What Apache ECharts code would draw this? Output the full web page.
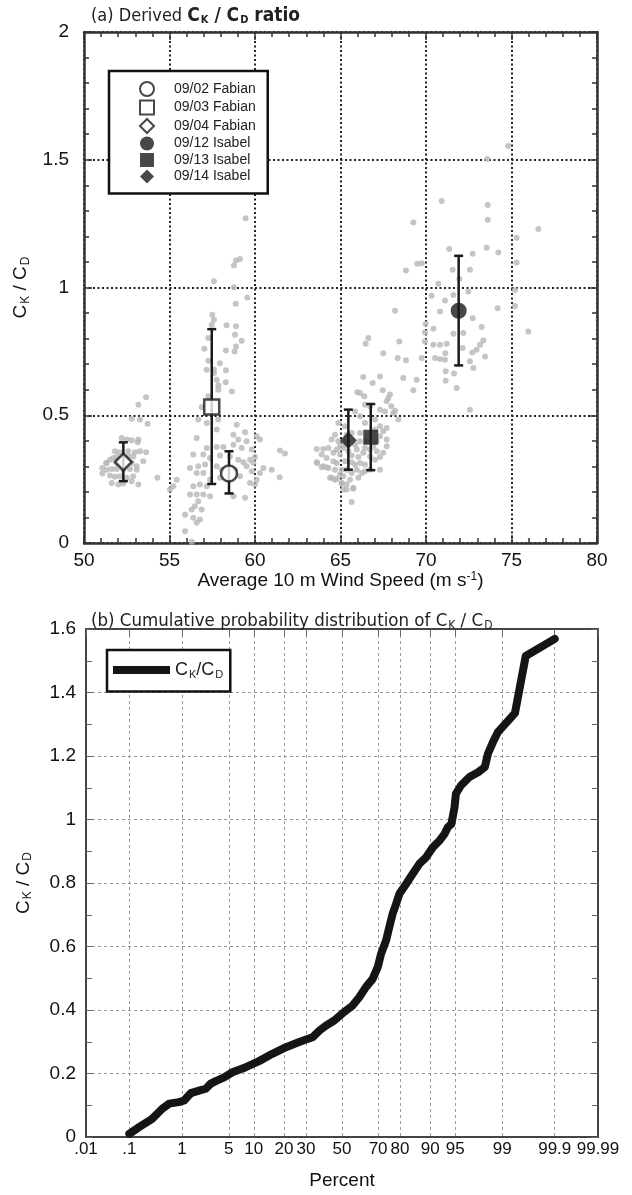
<!DOCTYPE html>
<html><head><meta charset="utf-8">
<script src="https://cdn.jsdelivr.net/npm/echarts@6/dist/echarts.min.js"></script>
<style>html,body{margin:0;padding:0;background:#fff}#c{width:632px;height:1195px}</style>
</head><body><div id="c"></div>
<script>
// ---------- DATA ----------
// (a) individual C_K/C_D estimates: [wind speed (m/s), ratio]
const pointsFabian0904 = [[53.63,0.570],[53.18,0.541],[52.79,0.486],[53.27,0.483],[53.72,0.467],[52.20,0.411],[52.50,0.405],[52.79,0.402],[53.18,0.405],[53.14,0.394],[51.81,0.359],[52.07,0.355],[52.59,0.359],[52.98,0.355],[53.27,0.359],[53.63,0.355],[51.71,0.333],[51.91,0.337],[51.52,0.326],[51.33,0.313],[51.91,0.313],[52.20,0.307],[52.79,0.313],[53.08,0.300],[51.07,0.294],[51.33,0.287],[51.62,0.290],[51.91,0.290],[52.30,0.287],[52.69,0.290],[53.08,0.287],[51.07,0.272],[51.52,0.264],[51.81,0.259],[52.11,0.261],[52.50,0.255],[52.88,0.261],[51.62,0.235],[52.01,0.229],[52.30,0.233],[53.18,0.229],[52.79,0.242],[54.29,0.255],[51.29,0.313],[53.47,0.320],[52.59,0.339],[52.88,0.339]];
const pointsFabian0203 = [[56.88,0.532],[56.68,0.483],[57.85,0.483],[57.18,0.470],[56.59,0.411],[57.76,0.444],[58.93,0.463],[58.74,0.424],[59.42,0.433],[59.02,0.405],[59.51,0.398],[60.10,0.418],[60.29,0.405],[57.18,0.372],[57.76,0.376],[58.15,0.376],[58.74,0.385],[59.22,0.372],[59.81,0.366],[60.00,0.337],[56.39,0.346],[56.98,0.346],[57.37,0.333],[57.95,0.342],[58.54,0.339],[59.02,0.326],[59.32,0.316],[59.71,0.326],[59.90,0.314],[60.49,0.294],[60.98,0.287],[61.46,0.362],[61.75,0.350],[56.20,0.294],[56.68,0.300],[57.08,0.307],[57.76,0.300],[58.05,0.287],[58.83,0.287],[59.51,0.300],[59.81,0.281],[60.10,0.248],[60.29,0.274],[61.44,0.257],[56.59,0.274],[56.98,0.274],[57.37,0.248],[57.95,0.255],[59.12,0.261],[59.71,0.235],[60.00,0.229],[59.42,0.177],[58.74,0.183],[55.42,0.248],[55.22,0.222],[55.03,0.209],[56.39,0.222],[56.78,0.229],[57.18,0.222],[56.20,0.190],[56.59,0.190],[56.98,0.190],[57.37,0.183],[56.68,0.163],[56.49,0.144],[56.88,0.131],[56.30,0.131],[55.91,0.111],[56.39,0.099],[56.78,0.092],[56.59,0.079],[55.91,0.046],[56.30,0.005],
  [59.45,1.271],[59.12,1.112],[58.89,1.106],[58.77,1.086],[57.60,1.024],[58.77,1.001],[59.55,0.961],[58.87,0.936],[57.50,0.893],[57.60,0.874],[57.47,0.854],[58.34,0.852],[58.89,0.848],[57.27,0.802],[58.83,0.815],[59.22,0.792],[57.04,0.760],[58.89,0.769],[58.30,0.753],[58.81,0.750],[57.27,0.713],[57.95,0.704],[57.17,0.678],[57.60,0.678],[58.30,0.676],[57.60,0.665],[57.86,0.617],[58.29,0.629],[57.86,0.600],[57.27,0.574],[57.76,0.639],[58.64,0.593]];
const pointsIsabel1314 = [[66.33,0.650],[66.88,0.626],[67.31,0.652],[68.67,0.646],[69.26,0.598],[69.45,0.639],[65.98,0.590],[66.14,0.587],[67.47,0.598],[67.89,0.581],[67.70,0.555],[66.43,0.541],[66.73,0.535],[67.31,0.522],[67.60,0.515],[68.09,0.509],[68.38,0.483],[65.85,0.515],[66.14,0.496],[66.43,0.470],[67.02,0.483],[67.31,0.457],[67.50,0.437],[67.70,0.450],[64.87,0.470],[65.26,0.457],[64.68,0.424],[65.36,0.424],[65.65,0.431],[66.14,0.431],[67.02,0.444],[64.48,0.405],[67.70,0.405],[63.61,0.368],[63.99,0.368],[64.29,0.372],[64.78,0.366],[65.17,0.372],[65.95,0.366],[66.43,0.372],[67.12,0.359],[67.70,0.379],[64.58,0.353],[64.97,0.346],[65.65,0.342],[66.04,0.337],[66.33,0.353],[66.73,0.339],[67.31,0.337],[64.78,0.313],[65.26,0.320],[65.65,0.316],[66.14,0.313],[66.43,0.307],[63.64,0.313],[63.99,0.300],[64.29,0.294],[64.68,0.287],[65.07,0.287],[65.95,0.287],[66.43,0.281],[64.39,0.255],[64.68,0.248],[65.17,0.261],[65.56,0.248],[66.04,0.255],[65.07,0.235],[65.36,0.229],[65.17,0.209],[65.75,0.216],[65.65,0.160],[67.31,0.287],[67.02,0.326],[66.14,0.398],[64.87,0.398],[63.61,0.316],[63.90,0.296],[64.19,0.296],[64.48,0.255],[64.78,0.251],[65.07,0.233],[65.36,0.209],[65.75,0.212],
  [65.36,0.398],[65.85,0.385],[66.53,0.398],[66.92,0.379],[65.46,0.359],[66.73,0.366],[65.36,0.287],[65.65,0.274],[66.24,0.274],[66.73,0.287],[65.85,0.307],[64.97,0.268],[64.58,0.320],[64.19,0.333],[63.90,0.346],[67.31,0.418],[67.12,0.398],[67.50,0.353],[65.26,0.385],[64.97,0.379],
  [68.19,0.909],[66.47,0.780],[66.63,0.802],[68.44,0.789],[67.50,0.743],[68.34,0.724],[68.83,0.715],[67.80,0.568],[66.39,0.574],[68.19,0.518],[67.97,0.535]];
const pointsIsabel12 = [[70.92,1.339],[73.61,1.323],[73.61,1.265],[69.26,1.254],[75.30,1.195],[76.57,1.229],[73.55,1.156],[71.36,1.151],[74.23,1.137],[72.73,1.132],[68.83,1.067],[69.49,1.093],[69.75,1.095],[71.56,1.069],[72.57,1.069],[75.30,1.098],[70.72,1.015],[70.33,0.968],[71.11,0.949],[71.60,0.971],[71.95,1.033],[72.48,0.984],[74.19,0.919],[75.20,0.928],[75.20,0.990],[75.98,0.828],[69.98,0.858],[70.43,0.839],[70.82,0.906],[69.94,0.824],[69.94,0.789],[70.43,0.776],[70.82,0.776],[71.21,0.780],[71.13,0.743],[71.11,0.717],[71.60,0.819],[72.18,0.822],[72.73,0.880],[73.26,0.845],[73.35,0.793],[73.16,0.776],[72.71,0.746],[72.96,0.756],[73.45,0.730],[72.57,0.711],[70.53,0.724],[70.82,0.720],[69.75,0.724],[71.15,0.672],[71.64,0.663],[71.15,0.635],[71.79,0.607],[72.77,0.685],[72.14,0.763],[72.57,0.522],[74.81,1.554],[73.59,1.503]];

// (a) flight means with error bars
const caseNames = ['09/02 Fabian','09/03 Fabian','09/04 Fabian','09/12 Isabel','09/13 Isabel','09/14 Isabel'];
const caseWind  = [58.48, 57.47, 52.30, 71.91, 66.77, 65.46];
const caseMean  = [0.272, 0.532, 0.317, 0.909, 0.414, 0.402];
const caseLow   = [0.194, 0.231, 0.242, 0.695, 0.285, 0.287];
const caseHigh  = [0.359, 0.837, 0.394, 1.124, 0.544, 0.522];
const caseSymbol = ['circle','rect','diamond','circle','rect','diamond'];
const caseFilled = [false,false,false,true,true,true];

// (b) cumulative probability distribution
const cdfPercent = [0.1,0.16,0.29,0.45,0.6,0.89,1.09,1.4,1.89,2.39,2.83,3.33,4.34,5.57,8.12,11.4,15.6,20.8,26.7,33.4,37.1,40.8,45.5,50.4,56.1,59.9,63.6,67.2,69.8,71.5,73.9,75.4,76.9,78.4,79.8,82.4,84.8,87.0,88.9,90.7,92.2,93.2,93.8,94.4,94.9,95.1,95.8,96.8,97.6,98.1,98.3,98.58,98.82,99.2,99.4,99.62,99.9];
const cdfRatio   = [0.01,0.031,0.057,0.089,0.105,0.11,0.115,0.138,0.146,0.152,0.168,0.176,0.188,0.204,0.22,0.239,0.262,0.283,0.299,0.314,0.335,0.351,0.367,0.39,0.414,0.44,0.472,0.498,0.535,0.577,0.619,0.661,0.703,0.734,0.766,0.797,0.829,0.861,0.881,0.913,0.934,0.955,0.976,0.986,1.039,1.081,1.107,1.134,1.149,1.165,1.207,1.243,1.275,1.31,1.335,1.515,1.569];
const percentTicks = [0.01,0.1,1,5,10,20,30,50,70,80,90,95,99,99.9,99.99];
const percentTickLabels = ['.01','.1','1','5','10','20','30','50','70','80','90','95','99','99.9','99.99'];

// ---------- probability-axis transform (normal quantile) ----------
function probit(p){
  const a=[-3.969683028665376e+01,2.209460984245205e+02,-2.759285104469687e+02,1.383577518672690e+02,-3.066479806614716e+01,2.506628277459239e+00];
  const b=[-5.447609879822406e+01,1.615858368580409e+02,-1.556989798598866e+02,6.680131188771972e+01,-1.328068155288572e+01];
  const c=[-7.784894002430293e-03,-3.223964580411365e-01,-2.400758277161838e+00,-2.549671039164224e+00,4.374664141464968e+00,2.938163982698783e+00];
  const d=[7.784695709041462e-03,3.224671290700398e-01,2.445134137142996e+00,3.754408661907416e+00];
  const pl=0.02425, ph=1-pl; let q,r;
  if(p<pl){q=Math.sqrt(-2*Math.log(p));return (((((c[0]*q+c[1])*q+c[2])*q+c[3])*q+c[4])*q+c[5])/((((d[0]*q+d[1])*q+d[2])*q+d[3])*q+1);}
  if(p<=ph){q=p-0.5;r=q*q;return (((((a[0]*r+a[1])*r+a[2])*r+a[3])*r+a[4])*r+a[5])*q/(((((b[0]*r+b[1])*r+b[2])*r+b[3])*r+b[4])*r+1);}
  q=Math.sqrt(-2*Math.log(1-p));return -(((((c[0]*q+c[1])*q+c[2])*q+c[3])*q+c[4])*q+c[5])/((((d[0]*q+d[1])*q+d[2])*q+d[3])*q+1);
}
const zTicks = percentTicks.map(p=>probit(p/100));
const zMin = zTicks[0], zMax = zTicks[zTicks.length-1];

// ---------- STYLE ----------
const FONT = "'Liberation Sans', Arial, sans-serif";
const NARROW = "'Liberation Sans Narrow', 'DejaVu Sans Condensed', sans-serif";
const INK = '#1a1a1a';
const subRich = { s:{fontSize:12, padding:[9,0,0,1], fontFamily:FONT, color:'#222'} };

const chart = echarts.init(document.getElementById('c'), null, {renderer:'canvas'});

const frameTopA = {show:true, onZero:false, lineStyle:{color:'#333', width:2.5}};
const frameB = {show:true, onZero:false, lineStyle:{color:'#444', width:2}};

const series = [];
const allGray = [].concat(pointsFabian0904, pointsFabian0203, pointsIsabel1314, pointsIsabel12);
series.push({type:'scatter', name:'obs', xAxisIndex:0, yAxisIndex:0, data:allGray, symbolSize:6,
  itemStyle:{color:'#b6b6b6'}, silent:true, z:2});
series.push({type:'custom', name:'err', xAxisIndex:0, yAxisIndex:0, z:3,
  data: caseWind.map((w,i)=>[w, caseLow[i], caseHigh[i]]),
  encode:{x:0, y:[1,2]},
  renderItem:(params, api)=>{
    const x=api.value(0), lo=api.value(1), hi=api.value(2);
    const p1=api.coord([x,lo]), p2=api.coord([x,hi]);
    const hw=4.5, st={stroke:INK, lineWidth:2.5};
    return {type:'group', children:[
      {type:'line', shape:{x1:p1[0],y1:p1[1],x2:p2[0],y2:p2[1]}, style:st},
      {type:'line', shape:{x1:p1[0]-hw,y1:p1[1],x2:p1[0]+hw,y2:p1[1]}, style:st},
      {type:'line', shape:{x1:p2[0]-hw,y1:p2[1],x2:p2[0]+hw,y2:p2[1]}, style:st}
    ]};
  }});
caseNames.forEach((n,i)=>{
  series.push({type:'scatter', name:n, xAxisIndex:0, yAxisIndex:0, z:4,
    data:[[caseWind[i], caseMean[i]]], symbol:caseSymbol[i],
    symbolSize: caseSymbol[i]==='diamond'? 17 : (caseSymbol[i]==='rect'? 15 : 16),
    itemStyle: caseFilled[i] ? {color:INK, borderColor:INK, borderWidth:0}
                             : {color:'#fff', borderColor:INK, borderWidth:2.5}});
});
series.push({type:'line', name:'CK/CD', xAxisIndex:2, yAxisIndex:2, z:3,
  data: cdfPercent.map((p,i)=>[probit(p/100), cdfRatio[i]]),
  showSymbol:false, symbol:'none', color:'#151515',
  lineStyle:{width:8, color:'#151515', join:'round', cap:'round'}});

const yNameText = 'C{s|K} / C{s|D}';

const option = {
  animation:false,
  backgroundColor:'#fff',
  textStyle:{fontFamily:FONT},
  title:[
    {text:'(a) Derived {c|C}{s|K}{c| / C}{s|D}{c| ratio}', left:86, top:1,
     textStyle:{fontFamily:NARROW, fontSize:18, fontWeight:'normal', color:'#222',
       rich:{c:{fontFamily:NARROW, fontSize:19, fontWeight:'bold', color:'#222'}, s:{fontFamily:NARROW, fontSize:11, fontWeight:'bold', padding:[9,0,0,1], color:'#222'}}}},
    {text:'(b) Cumulative probability distribution of C{s|K} / C{s|D}', left:86, top:605,
     textStyle:{fontFamily:NARROW, fontSize:18.5, fontWeight:'normal', color:'#222',
       rich:{s:{fontFamily:NARROW, fontSize:12, padding:[10,0,0,1], color:'#222'}}}}
  ],
  legend:[
    {data:caseNames, orient:'vertical', left:109, top:71, itemWidth:14, itemHeight:14, itemGap:2.5,
     padding:[10,12,10,30], borderColor:'#111', borderWidth:2.5, backgroundColor:'#fff',
     selectedMode:false, textStyle:{fontSize:14, color:'#222', padding:[0,0,0,15]}},
    {data:[{name:'CK/CD', icon:'rect'}], left:107, top:650, itemWidth:57, itemHeight:8,
     padding:[11,7,11,6], borderColor:'#111', borderWidth:2.5, backgroundColor:'#fff', selectedMode:false,
     formatter:()=>'C{s|K}/C{s|D}',
     textStyle:{fontSize:18, color:'#222', rich:{s:{fontSize:11, padding:[10,0,0,1], color:'#222'}}}}
  ],
  grid:[
    {left:84, top:32, width:513, height:511, containLabel:false},
    {left:86, top:629, width:512, height:508, containLabel:false}
  ],
  xAxis:[
    {gridIndex:0, type:'value', min:50, max:80, interval:5, position:'bottom',
     axisLine:frameTopA, axisTick:{show:true, inside:true, length:8, lineStyle:{color:'#333', width:1.5}},
     minorTick:{show:true, splitNumber:5, length:5, lineStyle:{color:'#333', width:1.5}},
     axisLabel:{fontSize:19, color:'#111', margin:8},
     splitLine:{show:true, lineStyle:{color:'#222', width:2, type:[2,2.5]}},
     name:'Average 10 m Wind Speed (m s{sup|-1})', nameLocation:'middle', nameGap:27,
     nameTextStyle:{fontSize:19, color:'#111', rich:{sup:{fontSize:12, padding:[0,0,8,0], color:'#111'}}}},
    {gridIndex:0, type:'value', min:50, max:80, interval:5, position:'top',
     axisLine:frameTopA, axisTick:{show:true, inside:true, length:8, lineStyle:{color:'#333', width:1.5}},
     minorTick:{show:true, splitNumber:5, length:5, lineStyle:{color:'#333', width:1.5}},
     axisLabel:{show:false}, splitLine:{show:false}},
    {gridIndex:1, type:'value', min:zMin, max:zMax, position:'bottom',
     axisLine:frameB,
     axisTick:{show:false, customValues:zTicks},
     axisLabel:{fontSize:17, color:'#111', margin:4, customValues:zTicks,
       formatter:(v)=>{const i=zTicks.findIndex(z=>Math.abs(z-v)<1e-6); return i>=0?percentTickLabels[i]:'';}},
     splitLine:{show:true, lineStyle:{color:'#9a9a9a', width:1, type:[3,3]}},
     name:'Percent', nameLocation:'middle', nameGap:34, nameTextStyle:{fontSize:19, color:'#111'}},
    {gridIndex:1, type:'value', min:zMin, max:zMax, position:'top',
     axisLine:frameB,
     axisTick:{show:true, inside:true, length:7, customValues:zTicks, lineStyle:{color:'#666', width:1}},
     axisLabel:{show:false, customValues:zTicks}, splitLine:{show:false}}
  ],
  yAxis:[
    {gridIndex:0, type:'value', min:0, max:2, interval:0.5, position:'left',
     axisLine:frameTopA, axisTick:{show:true, inside:true, length:8, lineStyle:{color:'#333', width:1.5}},
     minorTick:{show:true, splitNumber:5, length:5, lineStyle:{color:'#333', width:1.5}},
     axisLabel:{fontSize:19, color:'#111', margin:15},
     splitLine:{show:true, lineStyle:{color:'#222', width:2, type:[2,2.5]}},
     name:yNameText, nameLocation:'middle', nameGap:52,
     nameTextStyle:{fontSize:19, color:'#111', rich:subRich}},
    {gridIndex:0, type:'value', min:0, max:2, interval:0.5, position:'right',
     axisLine:frameTopA, axisTick:{show:true, inside:true, length:8, lineStyle:{color:'#333', width:1.5}},
     minorTick:{show:true, splitNumber:5, length:5, lineStyle:{color:'#333', width:1.5}},
     axisLabel:{show:false}, splitLine:{show:false}},
    {gridIndex:1, type:'value', min:0, max:1.6, interval:0.2, position:'left',
     axisLine:frameB, axisTick:{show:true, inside:true, length:7, lineStyle:{color:'#666', width:1}},
     minorTick:{show:true, splitNumber:2, length:6, lineStyle:{color:'#666', width:1}},
     axisLabel:{fontSize:19, color:'#111', margin:10},
     splitLine:{show:true, lineStyle:{color:'#9a9a9a', width:1, type:[3,3]}},
     name:yNameText, nameLocation:'middle', nameGap:52,
     nameTextStyle:{fontSize:19, color:'#111', rich:subRich}},
    {gridIndex:1, type:'value', min:0, max:1.6, interval:0.2, position:'right',
     axisLine:frameB, axisTick:{show:true, inside:true, length:7, lineStyle:{color:'#666', width:1}},
     minorTick:{show:true, splitNumber:2, length:6, lineStyle:{color:'#666', width:1}},
     axisLabel:{show:false}, splitLine:{show:false}}
  ],
  series
};
chart.setOption(option);
</script>
</body></html>
